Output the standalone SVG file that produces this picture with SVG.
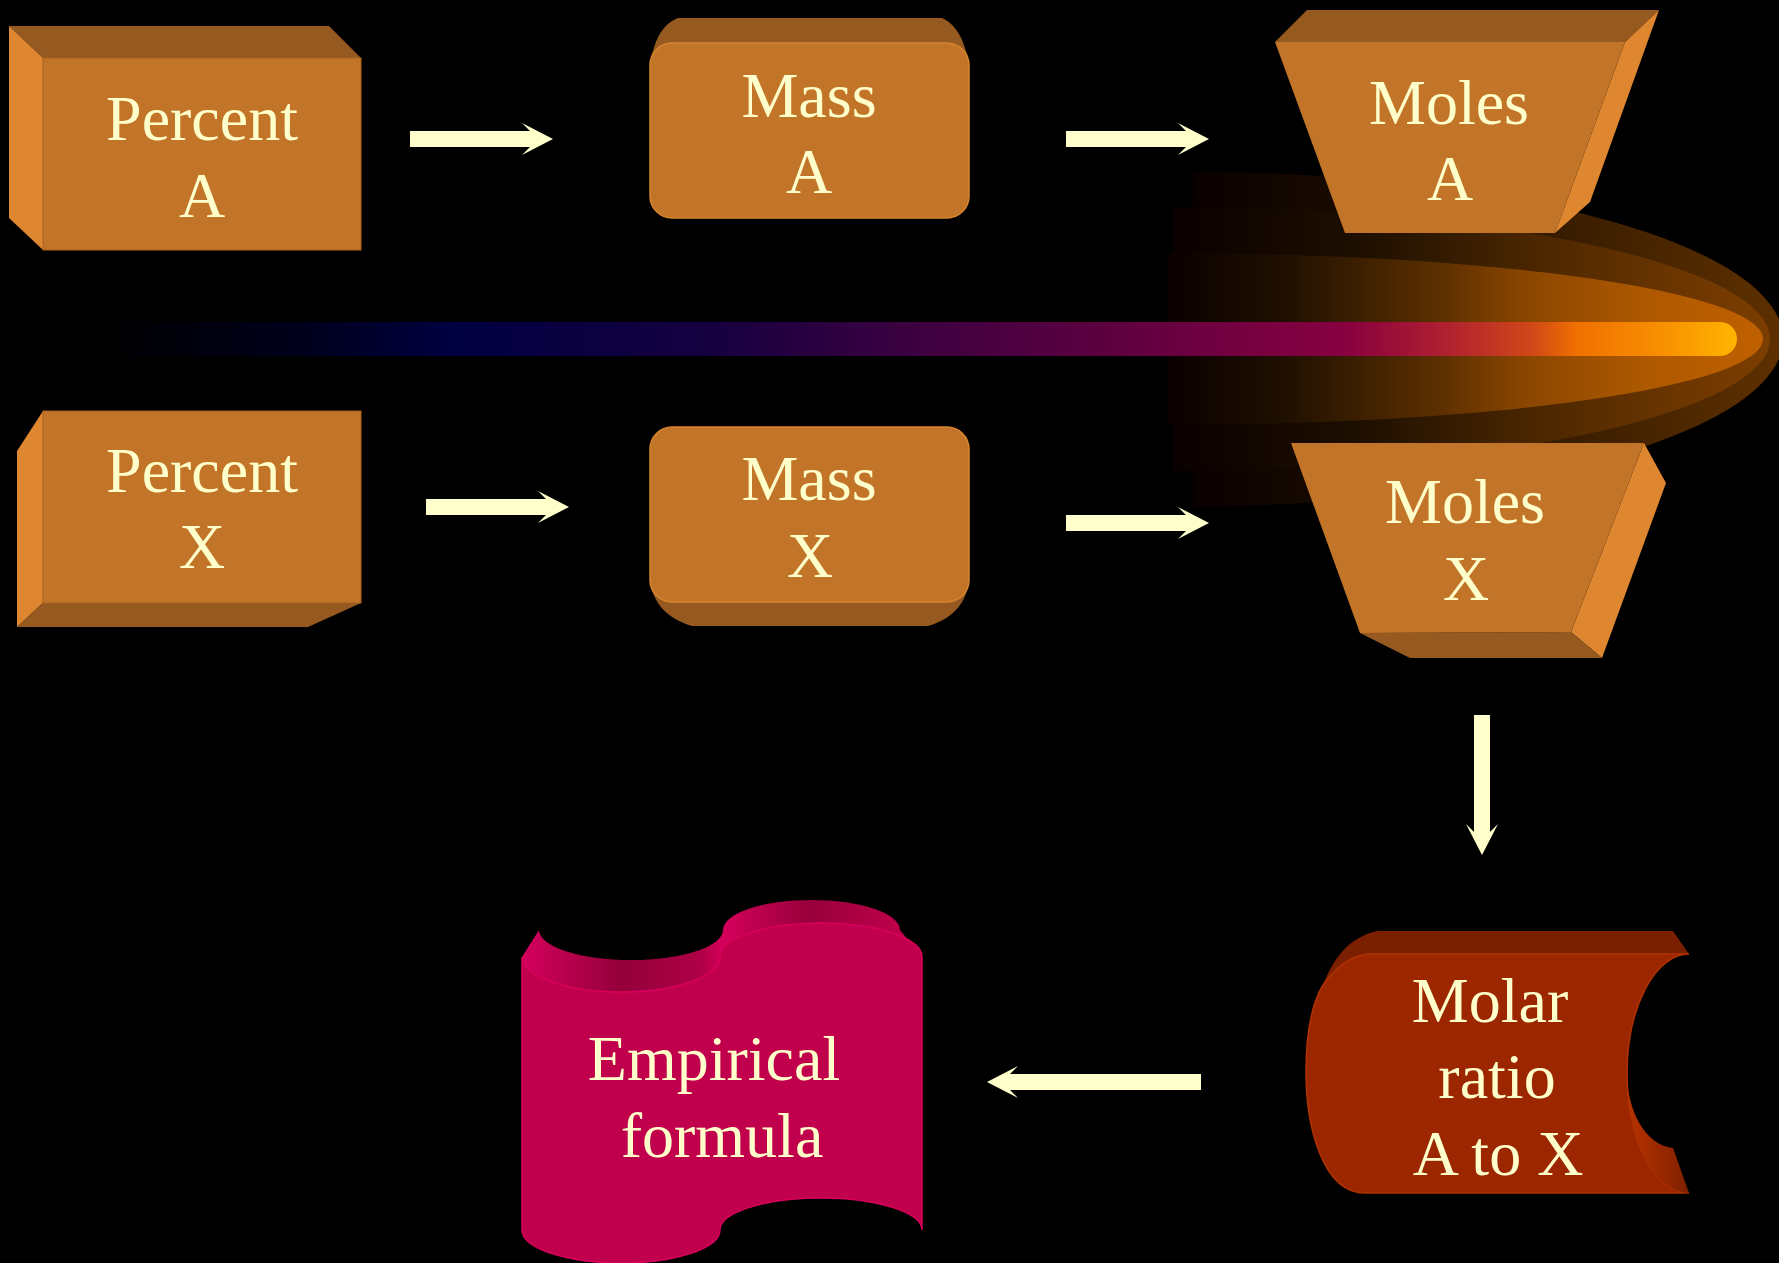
<svg xmlns="http://www.w3.org/2000/svg" width="1779" height="1263" viewBox="0 0 1779 1263">
<defs>
<style>
.front{fill:#C27528}
.top{fill:#965A20}
.side{fill:#DE8630}
.edge{stroke:#A8621F;stroke-width:1}
.lbl{font-family:"Liberation Serif","Times New Roman",serif;font-size:64px;fill:#FFFFCC;text-anchor:middle}
.arrow{fill:#FFFFCC}
</style>
<linearGradient id="barGrad" gradientUnits="userSpaceOnUse" x1="100" y1="0" x2="1737" y2="0">
<stop offset="0" stop-color="#000000"/>
<stop offset="0.122" stop-color="#00001c"/>
<stop offset="0.214" stop-color="#000040"/>
<stop offset="0.367" stop-color="#140040"/>
<stop offset="0.489" stop-color="#3a0040"/>
<stop offset="0.611" stop-color="#5c0040"/>
<stop offset="0.762" stop-color="#880040"/>
<stop offset="0.822" stop-color="#b02030"/>
<stop offset="0.875" stop-color="#d04818"/>
<stop offset="0.902" stop-color="#f07000"/>
<stop offset="0.955" stop-color="#f89000"/>
<stop offset="1" stop-color="#ffb400"/>
</linearGradient>
<linearGradient id="glowOuter" gradientUnits="userSpaceOnUse" x1="1193" y1="0" x2="1779" y2="0">
<stop offset="0" stop-color="#0a0000"/>
<stop offset="0.35" stop-color="#1e0f00"/>
<stop offset="0.7" stop-color="#3f2000"/>
<stop offset="1" stop-color="#5e3000"/>
</linearGradient>
<linearGradient id="glowMid" gradientUnits="userSpaceOnUse" x1="1174" y1="0" x2="1770" y2="0">
<stop offset="0" stop-color="#0a0000"/>
<stop offset="0.3" stop-color="#1c0e00"/>
<stop offset="0.6" stop-color="#4a2600"/>
<stop offset="0.85" stop-color="#6c3600"/>
<stop offset="1" stop-color="#7c3e00"/>
</linearGradient>
<linearGradient id="glowInner" gradientUnits="userSpaceOnUse" x1="1167" y1="0" x2="1763" y2="0">
<stop offset="0" stop-color="#0a0000"/>
<stop offset="0.2" stop-color="#201000"/>
<stop offset="0.45" stop-color="#5a2e00"/>
<stop offset="0.6" stop-color="#8a4600"/>
<stop offset="0.8" stop-color="#ae5800"/>
<stop offset="1" stop-color="#c06000"/>
</linearGradient>
<linearGradient id="empTop" gradientUnits="userSpaceOnUse" x1="522" y1="0" x2="922" y2="0">
<stop offset="0" stop-color="#d4005c"/>
<stop offset="0.25" stop-color="#94003a"/>
<stop offset="0.45" stop-color="#b00046"/>
<stop offset="0.5" stop-color="#d4005c"/>
<stop offset="0.72" stop-color="#98003a"/>
<stop offset="1" stop-color="#c8004f"/>
</linearGradient>
<linearGradient id="molarSide" gradientUnits="userSpaceOnUse" x1="1627" y1="0" x2="1689" y2="0">
<stop offset="0" stop-color="#b83200"/>
<stop offset="1" stop-color="#7e2000"/>
</linearGradient>
</defs>

<rect x="0" y="0" width="1779" height="1263" fill="#000000"/>

<g id="comet">
<path d="M1193,172 A590,167 0 0,1 1193,506 Z" fill="url(#glowOuter)"/>
<path d="M1174,207 A596,132 0 0,1 1174,471 Z" fill="url(#glowMid)"/>
<path d="M1167,253 A596,86 0 0,1 1167,425 Z" fill="url(#glowInner)"/>
<path d="M100,322 L1720,322 A17,17 0 0,1 1720,356 L100,356 Z" fill="url(#barGrad)"/>
</g>

<g id="connectors">
<polygon class="arrow" points="410,131 530,131 522,123 553,139 522,155 530,147 410,147"/>
<polygon class="arrow" points="1066,131 1186,131 1178,123 1209,139 1178,155 1186,147 1066,147"/>
<polygon class="arrow" points="426,499 546,499 538,491 569,507 538,523 546,515 426,515"/>
<polygon class="arrow" points="1066,515 1186,515 1178,507 1209,523 1178,539 1186,531 1066,531"/>
<polygon class="arrow" points="1474,715 1474,832 1466,824 1482,855 1498,824 1490,832 1490,715"/>
<polygon class="arrow" points="1201,1074 1010,1074 1018,1066 987,1082 1018,1098 1010,1090 1201,1090"/>
</g>

<g id="node-percent-a">
<polygon class="top" points="9,26 329,26 361,58 43,58"/>
<polygon class="side" points="9,26 43,58 43,250 9,218"/>
<rect class="front edge" x="43" y="58" width="318" height="192"/>
<text class="lbl" x="202" y="140">Percent</text>
<text class="lbl" x="202" y="217">A</text>
</g>

<g id="node-mass-a">
<path class="top" d="M650,70 C652,45 660,25 678,18 L942,18 C958,25 967,45 969,70 Z"/>
<rect class="front" x="650" y="43" width="319" height="175" rx="22" ry="22" stroke="#D8842E" stroke-width="1.5"/>
<text class="lbl" x="809" y="117">Mass</text>
<text class="lbl" x="809" y="193">A</text>
</g>

<g id="node-moles-a">
<polygon class="top" points="1307,10 1659,10 1625,42 1275,42"/>
<polygon class="side" points="1625,42 1659,10 1590,202 1555,233"/>
<polygon class="front" points="1275,42 1625,42 1555,233 1345,233"/>
<text class="lbl" x="1449" y="124">Moles</text>
<text class="lbl" x="1450" y="200">A</text>
</g>

<g id="node-percent-x">
<polygon class="side" points="17,451 43,411 43,603 17,627"/>
<polygon class="top" points="17,627 43,603 361,603 308,627"/>
<rect class="front edge" x="43" y="411" width="318" height="192"/>
<text class="lbl" x="202" y="492">Percent</text>
<text class="lbl" x="202" y="568">X</text>
</g>

<g id="node-mass-x">
<path class="top" d="M650,575 C650,600 665,618 692,626 L928,626 C955,618 969,600 969,575 Z"/>
<rect class="front" x="650" y="427" width="319" height="175" rx="22" ry="22" stroke="#D8842E" stroke-width="1.5"/>
<text class="lbl" x="809" y="500">Mass</text>
<text class="lbl" x="810" y="577">X</text>
</g>

<g id="node-moles-x">
<polygon class="side" points="1644,443 1666,483 1602,658 1571,632"/>
<polygon class="top" points="1360,633 1571,632 1602,658 1410,658"/>
<polygon class="front" points="1291,443 1644,443 1571,632 1360,633"/>
<text class="lbl" x="1465" y="523">Moles</text>
<text class="lbl" x="1466" y="600">X</text>
</g>

<g id="node-molar-ratio">
<path d="M1367,954 Q1342,958 1323,985 C1333,960 1347,938 1377,931 L1673,931 L1689,954 Z" fill="#7A2000"/>
<path d="M1367,954 L1689,954 A62,119.5 0 0,0 1689,1193 L1365,1193 C1322,1193 1306,1125 1306,1072 C1306,1035 1311,1005 1323,985 Q1342,958 1367,954 Z" fill="#9C2600" stroke="#B03200" stroke-width="1.5"/>
<path d="M1627,1073 C1627,1110 1645,1145 1673,1148 L1689,1193 A62,119.5 0 0,1 1627,1073 Z" fill="url(#molarSide)"/>
<text class="lbl" x="1490" y="1022">Molar</text>
<text class="lbl" x="1497" y="1098">ratio</text>
<text class="lbl" x="1498" y="1175">A to X</text>
</g>

<g id="node-empirical-formula">
<path d="M522,957 L539,930 A92,30 0 0,0 723,930 A88.5,30 0 0,1 900,930 L922,957 A101,34 0 0,0 720,957 A99,35 0 0,1 522,957 Z" fill="url(#empTop)"/>
<path d="M522,957 A99,35 0 0,0 720,957 A101,34 0 0,1 922,957 L922,1230 A101,32 0 0,0 720,1230 A99,33 0 0,1 522,1230 Z" fill="#C0004C" stroke="#D8005C" stroke-width="1.5"/>
<text class="lbl" x="714" y="1080">Empirical</text>
<text class="lbl" x="722" y="1157">formula</text>
</g>
</svg>
